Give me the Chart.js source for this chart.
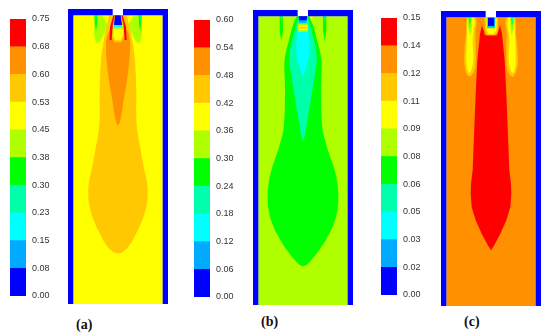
<!DOCTYPE html>
<html><head><meta charset="utf-8">
<script src="https://cdn.jsdelivr.net/npm/chart.js@4"></script>
<style>
html,body{margin:0;padding:0;background:#fff;width:550px;height:335px;overflow:hidden}
canvas{position:absolute;filter:blur(.5px)}
.tag{position:absolute;font:bold 14px "Liberation Serif",serif;color:#111;line-height:16px}
</style></head><body>
<canvas id="barA" width="46" height="293" style="left:10px;top:11px"></canvas>
<canvas id="plotA" width="100" height="295" style="left:68px;top:9px"></canvas>
<canvas id="barB" width="46" height="293" style="left:194px;top:12px"></canvas>
<canvas id="plotB" width="100" height="295" style="left:253px;top:10px"></canvas>
<canvas id="barC" width="46" height="293" style="left:381px;top:10px"></canvas>
<canvas id="plotC" width="100" height="295" style="left:441px;top:11px"></canvas>
<div class="tag" style="left:76px;top:317px">(a)</div>
<div class="tag" style="left:261px;top:314px">(b)</div>
<div class="tag" style="left:464px;top:314px">(c)</div>
<script>
// colour-bar scales
const levelsA=[0,0.075,0.15,0.225,0.3,0.375,0.45,0.525,0.6,0.675,0.75];
const labelsA=['0.00','0.08','0.15','0.23','0.30','0.38','0.45','0.53','0.60','0.68','0.75'];
const levelsB=[0,0.06,0.12,0.18,0.24,0.3,0.36,0.42,0.48,0.54,0.6];
const labelsB=['0.00','0.06','0.12','0.18','0.24','0.30','0.36','0.42','0.48','0.54','0.60'];
const levelsC=[0,0.015,0.03,0.045,0.06,0.075,0.09,0.105,0.12,0.135,0.15];
const labelsC=['0.00','0.02','0.03','0.05','0.06','0.08','0.09','0.11','0.12','0.14','0.15'];
const bands=['#0000ff','#00aaff','#00ffff','#00ffaa','#00ff00','#b0ff00','#ffff00','#ffc800','#ff9000','#ff0000'];
const [BLUE,SKY,CYAN,TEAL,GREEN,LIME,YELLOW,AMBER,ORANGE,RED]=bands;

// geometry shared by the three cavities
const wallLeft=[[-150,0],[-16,0],[-16,19],[-134,19],[-134,885],[-150,885]];
const wallRight=[[15,0],[150,0],[150,885],[134,885],[134,19],[15,19]];
const cavity=[[-134,19],[134,19],[134,885],[-134,885]];

// panel (a) contours
const aFanL=[[-72,19],[-19,19],[-39,68],[-54,98],[-66,103],[-72,78]];
const aFanR=[[72,19],[19,19],[39,68],[54,98],[66,103],[72,78]];
const aPatchL=[[-48,19],[-22,19],[-32,45]];
const aPatchR=[[48,19],[22,19],[32,45]];
const aStripL=[[-71,19],[-62,19],[-63,45],[-66,68],[-69,45]];
const aStripR=[[62,19],[71,19],[69,45],[66,68],[63,45]];
const aCoreL=[[-68,19],[-65,19],[-66,40]];
const aCoreR=[[65,19],[68,19],[66,40]];
const aBottle=[[26,19],[33,48],[40,80],[46,115],[51,153],[55,253],[55,323],[59,373],[68,423],[79,483],[86,513],[89,553],[85,593],[73,633],[55,673],[35,708],[15,728],[0,733],[-15,728],[-35,708],[-55,673],[-73,633],[-85,593],[-89,553],[-86,513],[-79,483],[-68,423],[-59,373],[-55,323],[-55,253],[-51,153],[-46,115],[-40,80],[-33,48],[-26,19]];
const aOrange=[[0,58],[25,63],[35,93],[36,120],[34,153],[27,213],[17,273],[9,323],[0,348],[-9,323],[-17,273],[-27,213],[-34,153],[-36,120],[-35,93],[-25,63]];
const aRedL=[[-14,19],[-10,19],[-16,50],[-19,93],[-25,93],[-24,55]];
const aRedR=[[10,19],[14,19],[24,55],[26,93],[20,93],[17,50]];
const aBubble=[[-18,55],[18,55],[19,85],[10,100],[-10,100],[-19,85]];
const aBubbleIn=[[-14,58],[14,58],[15,78],[7,94],[-7,94],[-15,78]];
const aLime=[[-13,46],[13,46],[14,60],[-14,60]];
const aCyan=[[-12,44],[12,44],[12,55],[-12,55]];
const aBlue=[[-9,19],[8,19],[12,48],[-12,48]];

// panel (b) contours
const bBottle=[[19,19],[30,46],[41,86],[52,130],[56,165],[55,200],[54,251],[58,351],[69,401],[85,451],[95,481],[103,521],[106,561],[103,601],[92,641],[73,681],[48,721],[24,751],[10,765],[0,768],[-10,765],[-24,751],[-48,721],[-73,681],[-92,641],[-103,601],[-106,561],[-103,521],[-95,481],[-85,451],[-69,401],[-58,351],[-54,251],[-55,200],[-56,165],[-52,130],[-41,86],[-30,46],[-19,19]];
const bTeal=[[13,20],[22,50],[35,100],[40,130],[41,151],[33,211],[23,271],[13,331],[0,391],[-13,331],[-23,271],[-33,211],[-41,151],[-40,130],[-35,100],[-22,50],[-13,20]];
const bCyan=[[12,30],[15,60],[20,110],[18,140],[10,170],[0,196],[-10,170],[-18,140],[-20,110],[-15,60],[-12,30]];
const bStripL=[[-70,19],[-61,19],[-60,60],[-65,92],[-70,65]];
const bStripR=[[60,19],[70,19],[70,65],[65,92],[60,60]];
const bCoreL=[[-67,19],[-64,19],[-65,40]];
const bCoreR=[[64,19],[67,19],[65,40]];
const bWedgeL=[[-17,19],[-24,19],[-19,30]];
const bWedgeR=[[17,19],[30,19],[26,40]];
const bBubble=[[-16,42],[15,42],[15,66],[-16,66]];
const bBubbleMid=[[-13,46],[12,46],[12,60],[-13,60]];
const bBubbleIn=[[-11,50],[10,50],[10,56],[-11,56]];
const bSky=[[-13,19],[12,19],[10,38],[-11,38]];
const bBlue=[[-13,19],[12,19],[11,31],[-12,31]];

// panel (c) contours
const cFanL=[[-73,20],[-46,20],[-47,68],[-46,118],[-48,168],[-58,193],[-68,195],[-78,170],[-80,128],[-75,68]];
const cFanR=[[73,20],[46,20],[47,68],[46,118],[48,168],[58,193],[68,195],[78,170],[80,128],[75,68]];
const cYelL=[[-70,20],[-51,20],[-55,88],[-53,138],[-57,170],[-65,186],[-72,170],[-74,138],[-72,68]];
const cYelR=[[70,20],[51,20],[55,88],[53,138],[57,170],[65,186],[72,170],[74,138],[72,68]];
const cLimeL=[[-71,20],[-58,20],[-58,50],[-62,75],[-68,53]];
const cLimeR=[[71,20],[58,20],[58,50],[62,75],[68,53]];
const cGreenL=[[-68,20],[-60,20],[-63,50]];
const cGreenR=[[60,20],[68,20],[63,50]];
const cCoreL=[[-66,20],[-62,20],[-64,38]];
const cCoreR=[[62,20],[66,20],[64,38]];
const cRed=[[-27,43],[-18,73],[18,73],[27,43],[33,68],[38,118],[41,148],[46,248],[50,348],[55,478],[60,518],[61,548],[58,588],[46,628],[28,668],[10,702],[0,718],[-10,702],[-28,668],[-46,628],[-58,588],[-61,548],[-60,518],[-55,478],[-50,348],[-46,248],[-41,148],[-38,118],[-33,68]];
const cCap=[[-20,19],[22,19],[20,63],[12,73],[-12,73],[-18,58]];
const cCapYel=[[-16,19],[18,19],[16,58],[8,68],[-8,68],[-14,52]];
const cCapGreen=[[-13,19],[13,19],[12,52],[-12,52]];
const cCapCyan=[[-12,19],[12,19],[11,48],[-11,48]];
const cBlue=[[-9,20],[10,20],[10,46],[-9,46]];

function colorbar(id,levels,labels){
  new Chart(document.getElementById(id),{
    type:'bar',
    data:{labels:[''],datasets:bands.map((c,i)=>({data:[[levels[i],levels[i+1]]],backgroundColor:c,borderWidth:0,barPercentage:1,categoryPercentage:1}))},
    options:{responsive:false,animation:false,layout:{padding:{top:8,bottom:8}},
      plugins:{legend:{display:false},tooltip:{enabled:false}},
      scales:{
        x:{display:false,stacked:true},
        y:{position:'right',min:levels[0],max:levels[levels.length-1],
           afterFit(s){s.width=30;s.paddingTop=0;s.paddingBottom=0},
           afterBuildTicks(s){s.ticks=levels.map(v=>({value:v}))},
           grid:{display:false,drawTicks:false},border:{display:false},
           ticks:{padding:6,autoSkip:false,color:'#333',font:{family:'"Liberation Sans",Arial,sans-serif',size:9},
             callback:(v,i)=>labels[i]}}
      }}
  });
}
function contour(id,layers){
  new Chart(document.getElementById(id),{
    type:'scatter',
    data:{datasets:layers.map(([pts,c],i)=>({data:pts,showLine:true,fill:'shape',backgroundColor:c,borderColor:'transparent',borderWidth:0,pointRadius:0,order:-i,
      tension:(pts.length>6&&pts!==cRed)?0.45:0}))},
    options:{responsive:false,animation:false,layout:{padding:0},
      plugins:{legend:{display:false},tooltip:{enabled:false}},
      scales:{x:{display:false,min:-150,max:150},y:{display:false,reverse:true,min:0,max:885}}}
  });
}
colorbar('barA',levelsA,labelsA);
colorbar('barB',levelsB,labelsB);
colorbar('barC',levelsC,labelsC);
contour('plotA',[[cavity,YELLOW],[aFanL,LIME],[aFanR,LIME],[aPatchL,YELLOW],[aPatchR,YELLOW],[aStripL,GREEN],[aStripR,GREEN],[aCoreL,CYAN],[aCoreR,CYAN],
  [aBottle,AMBER],[aOrange,ORANGE],[aBubble,AMBER],[aBubbleIn,YELLOW],[aRedL,RED],[aRedR,RED],[aLime,LIME],[aCyan,CYAN],[aBlue,BLUE],[wallLeft,BLUE],[wallRight,BLUE]]);
contour('plotB',[[cavity,LIME],[bStripL,GREEN],[bStripR,GREEN],[bCoreL,CYAN],[bCoreR,CYAN],[bWedgeL,YELLOW],[bWedgeR,YELLOW],
  [bBottle,GREEN],[bTeal,TEAL],[bCyan,CYAN],[bBubble,LIME],[bBubbleMid,YELLOW],[bBubbleIn,AMBER],[bSky,SKY],[bBlue,BLUE],[wallLeft,BLUE],[wallRight,BLUE]]);
contour('plotC',[[cavity,ORANGE],[cFanL,AMBER],[cFanR,AMBER],[cYelL,YELLOW],[cYelR,YELLOW],[cLimeL,LIME],[cLimeR,LIME],[cGreenL,GREEN],[cGreenR,GREEN],[cCoreL,CYAN],[cCoreR,CYAN],
  [cRed,RED],[cCap,AMBER],[cCapYel,YELLOW],[cCapGreen,GREEN],[cCapCyan,CYAN],[cBlue,BLUE],[wallLeft,BLUE],[wallRight,BLUE]]);
</script>
</body></html>
